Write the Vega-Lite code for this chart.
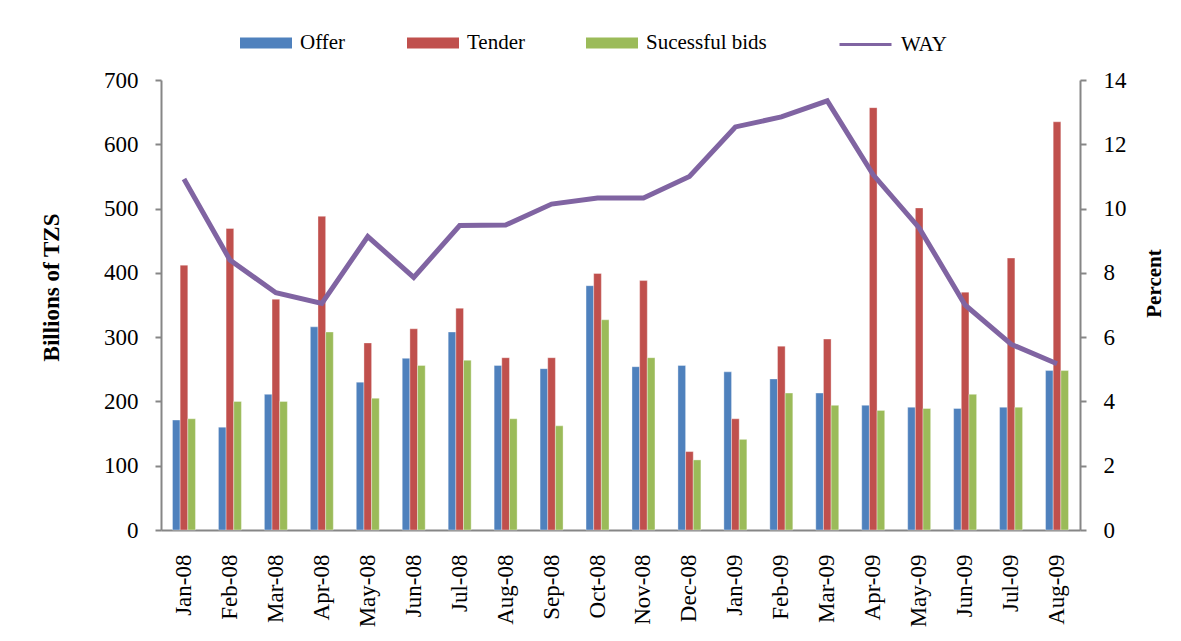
{
  "$schema": "https://vega.github.io/schema/vega-lite/v6.json",
  "width": 919,
  "height": 450,
  "autosize": "none",
  "padding": {"left": 161, "top": 80, "right": 101, "bottom": 111},
  "background": "#ffffff",
  "config": {
    "view": {"stroke": null},
    "font": "Liberation Serif",
    "axis": {"grid": false, "domainColor": "#868686", "domainWidth": 2, "tickColor": "#868686", "tickWidth": 2, "labelFont": "Liberation Serif", "labelColor": "#000000", "titleFont": "Liberation Serif", "titleColor": "#000000"}
  },
  "datasets": {
    "bars": [
      {"month": "Jan-08", "series": "Offer", "value": 171}, {"month": "Jan-08", "series": "Tender", "value": 412}, {"month": "Jan-08", "series": "Sucessful bids", "value": 173},
      {"month": "Feb-08", "series": "Offer", "value": 160}, {"month": "Feb-08", "series": "Tender", "value": 469}, {"month": "Feb-08", "series": "Sucessful bids", "value": 200},
      {"month": "Mar-08", "series": "Offer", "value": 211}, {"month": "Mar-08", "series": "Tender", "value": 359}, {"month": "Mar-08", "series": "Sucessful bids", "value": 200},
      {"month": "Apr-08", "series": "Offer", "value": 316}, {"month": "Apr-08", "series": "Tender", "value": 488}, {"month": "Apr-08", "series": "Sucessful bids", "value": 308},
      {"month": "May-08", "series": "Offer", "value": 230}, {"month": "May-08", "series": "Tender", "value": 291}, {"month": "May-08", "series": "Sucessful bids", "value": 205},
      {"month": "Jun-08", "series": "Offer", "value": 267}, {"month": "Jun-08", "series": "Tender", "value": 313}, {"month": "Jun-08", "series": "Sucessful bids", "value": 256},
      {"month": "Jul-08", "series": "Offer", "value": 308}, {"month": "Jul-08", "series": "Tender", "value": 345}, {"month": "Jul-08", "series": "Sucessful bids", "value": 264},
      {"month": "Aug-08", "series": "Offer", "value": 256}, {"month": "Aug-08", "series": "Tender", "value": 268}, {"month": "Aug-08", "series": "Sucessful bids", "value": 173},
      {"month": "Sep-08", "series": "Offer", "value": 251}, {"month": "Sep-08", "series": "Tender", "value": 268}, {"month": "Sep-08", "series": "Sucessful bids", "value": 162},
      {"month": "Oct-08", "series": "Offer", "value": 380}, {"month": "Oct-08", "series": "Tender", "value": 399}, {"month": "Oct-08", "series": "Sucessful bids", "value": 327},
      {"month": "Nov-08", "series": "Offer", "value": 254}, {"month": "Nov-08", "series": "Tender", "value": 388}, {"month": "Nov-08", "series": "Sucessful bids", "value": 268},
      {"month": "Dec-08", "series": "Offer", "value": 256}, {"month": "Dec-08", "series": "Tender", "value": 122}, {"month": "Dec-08", "series": "Sucessful bids", "value": 109},
      {"month": "Jan-09", "series": "Offer", "value": 246}, {"month": "Jan-09", "series": "Tender", "value": 173}, {"month": "Jan-09", "series": "Sucessful bids", "value": 141},
      {"month": "Feb-09", "series": "Offer", "value": 235}, {"month": "Feb-09", "series": "Tender", "value": 286}, {"month": "Feb-09", "series": "Sucessful bids", "value": 213},
      {"month": "Mar-09", "series": "Offer", "value": 213}, {"month": "Mar-09", "series": "Tender", "value": 297}, {"month": "Mar-09", "series": "Sucessful bids", "value": 194},
      {"month": "Apr-09", "series": "Offer", "value": 194}, {"month": "Apr-09", "series": "Tender", "value": 657}, {"month": "Apr-09", "series": "Sucessful bids", "value": 186},
      {"month": "May-09", "series": "Offer", "value": 191}, {"month": "May-09", "series": "Tender", "value": 501}, {"month": "May-09", "series": "Sucessful bids", "value": 189},
      {"month": "Jun-09", "series": "Offer", "value": 189}, {"month": "Jun-09", "series": "Tender", "value": 370}, {"month": "Jun-09", "series": "Sucessful bids", "value": 211},
      {"month": "Jul-09", "series": "Offer", "value": 191}, {"month": "Jul-09", "series": "Tender", "value": 423}, {"month": "Jul-09", "series": "Sucessful bids", "value": 191},
      {"month": "Aug-09", "series": "Offer", "value": 248}, {"month": "Aug-09", "series": "Tender", "value": 635}, {"month": "Aug-09", "series": "Sucessful bids", "value": 248}
    ],
    "way": [
      {"month": "Jan-08", "series": "WAY", "way": 10.92},
      {"month": "Feb-08", "series": "WAY", "way": 8.4},
      {"month": "Mar-08", "series": "WAY", "way": 7.38},
      {"month": "Apr-08", "series": "WAY", "way": 7.05},
      {"month": "May-08", "series": "WAY", "way": 9.13},
      {"month": "Jun-08", "series": "WAY", "way": 7.86},
      {"month": "Jul-08", "series": "WAY", "way": 9.47},
      {"month": "Aug-08", "series": "WAY", "way": 9.49},
      {"month": "Sep-08", "series": "WAY", "way": 10.14},
      {"month": "Oct-08", "series": "WAY", "way": 10.33},
      {"month": "Nov-08", "series": "WAY", "way": 10.33},
      {"month": "Dec-08", "series": "WAY", "way": 11.0},
      {"month": "Jan-09", "series": "WAY", "way": 12.54},
      {"month": "Feb-09", "series": "WAY", "way": 12.85},
      {"month": "Mar-09", "series": "WAY", "way": 13.35},
      {"month": "Apr-09", "series": "WAY", "way": 11.05},
      {"month": "May-09", "series": "WAY", "way": 9.4},
      {"month": "Jun-09", "series": "WAY", "way": 7.0},
      {"month": "Jul-09", "series": "WAY", "way": 5.78},
      {"month": "Aug-09", "series": "WAY", "way": 5.17}
    ]
  },
  "encoding": {
    "x": {
      "field": "month", "type": "nominal",
      "scale": {"domain": ["Jan-08","Feb-08","Mar-08","Apr-08","May-08","Jun-08","Jul-08","Aug-08","Sep-08","Oct-08","Nov-08","Dec-08","Jan-09","Feb-09","Mar-09","Apr-09","May-09","Jun-09","Jul-09","Aug-09"], "paddingInner": 0.5, "paddingOuter": 0.25},
      "axis": {"title": null, "ticks": false, "labelAngle": 270, "labelAlign": "right", "labelBaseline": "middle", "labelPadding": 24, "labelFontSize": 23}
    }
  },
  "layer": [
    {
      "data": {"name": "bars"},
      "mark": {"type": "bar", "stroke": "#ffffff", "strokeWidth": 0.6, "strokeOpacity": 0.6},
      "encoding": {
        "xOffset": {"field": "series", "type": "nominal", "scale": {"domain": ["Offer", "Tender", "Sucessful bids"]}},
        "y": {
          "field": "value", "type": "quantitative",
          "scale": {"domain": [0, 700], "nice": false},
          "axis": {"title": "Billions of TZS", "titleFontSize": 23, "titleFontWeight": "bold", "titleY": 207, "values": [0,100,200,300,400,500,600,700], "tickSize": 6, "labelPadding": 17, "labelFontSize": 23, "titlePadding": 40}
        },
        "color": {
          "field": "series", "type": "nominal",
          "scale": {"domain": ["Offer", "Tender", "Sucessful bids"], "range": ["#4F81BD", "#C0504D", "#9BBB59"]},
          "legend": {"title": null, "orient": "none", "legendX": 79, "legendY": -63, "direction": "horizontal", "symbolType": "M-1,-0.21L1,-0.21L1,0.21L-1,0.21Z", "symbolSize": 2704, "symbolOpacity": 1, "symbolStrokeWidth": 0, "labelFontSize": 21, "labelOffset": 8, "columnPadding": 61}
        }
      }
    },
    {
      "data": {"name": "way"},
      "mark": {"type": "line", "strokeWidth": 5, "color": "#8064A2"},
      "encoding": {
        "y": {
          "field": "way", "type": "quantitative",
          "scale": {"domain": [0, 14], "nice": false},
          "axis": {"title": "Percent", "orient": "right", "titleAngle": 270, "titleFontSize": 21, "titleFontWeight": "bold", "titleY": 203, "values": [0,2,4,6,8,10,12,14], "tickSize": 6, "labelPadding": 17, "labelFontSize": 23, "titlePadding": 38}
        },
        "stroke": {
          "field": "series", "type": "nominal",
          "scale": {"domain": ["WAY"], "range": ["#8064A2"]},
          "legend": {"title": null, "orient": "none", "legendX": 677, "legendY": -63, "symbolType": "stroke", "symbolSize": 2704, "symbolStrokeWidth": 3, "labelFontSize": 21, "labelOffset": 8}
        }
      }
    }
  ],
  "resolve": {"scale": {"y": "independent", "color": "independent", "stroke": "independent"}}
}
